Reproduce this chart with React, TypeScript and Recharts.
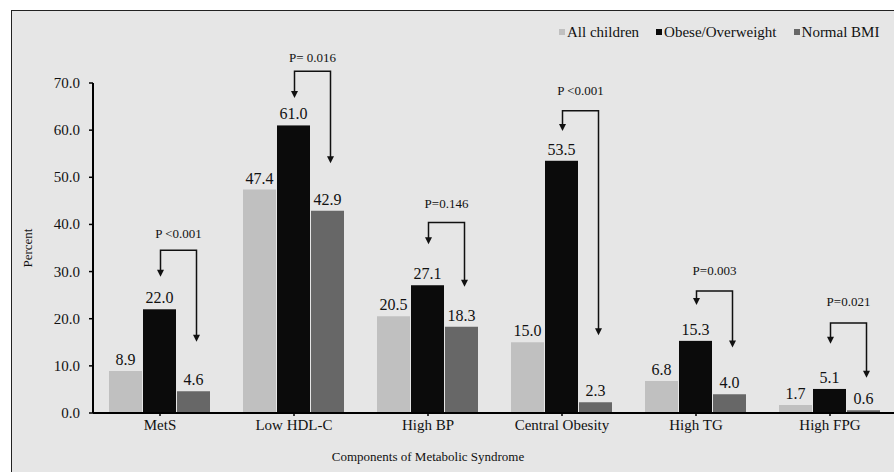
import React from "react";
import { BarChart, Bar, XAxis, YAxis, LabelList } from "recharts";

const categories = ["MetS", "Low HDL-C", "High BP", "Central Obesity", "High TG", "High FPG"];
const allChildren = [8.9, 47.4, 20.5, 15.0, 6.8, 1.7];
const obese = [22.0, 61.0, 27.1, 53.5, 15.3, 5.1];
const normalBmi = [4.6, 42.9, 18.3, 2.3, 4.0, 0.6];
const yTicks = [0, 10, 20, 30, 40, 50, 60, 70];

// P-value brackets (levels are in percent units)
const pLabels = ["P <0.001", "P= 0.016", "P=0.146", "P <0.001", "P=0.003", "P=0.021"];
const pLabelLevel = [38.1, 75.4, 44.5, 68.5, 30.3, 23.6];
const bracketTop = [34.5, 72.5, 40.4, 64.1, 25.9, 19.1];
const leftTip = [28.9, 66.8, 35.8, 59.8, 22.9, 14.7];
const rightTip = [15.1, 53.0, 26.8, 16.5, 13.9, 7.5];

const data = categories.map((name, i) => ({
  name,
  all: allChildren[i],
  obese: obese[i],
  normal: normalBmi[i],
}));

const FONT = "'Liberation Serif', Tinos, 'Times New Roman', Times, serif";
const BAR_GAP = 1;
const COLORS = { all: "#c0c0c0", obese: "#0b0b0b", normal: "#676767" };
const INK = "#111";

const fmt = (v: any) => Number(v).toFixed(1);

const Arrow = ({ x, y }: { x: number; y: number }) => (
  <polygon points={`${x - 3.5},${y - 7} ${x + 3.5},${y - 7} ${x},${y}`} fill={INK} />
);

const ObeseShape = (props: any) => {
  const { x, y, width, height, fill } = props;
  let i = categories.indexOf(props.payload?.name);
  if (i < 0) i = props.index ?? 0;
  const ppu = height / obese[i];
  const base = y + height;
  const toY = (v: number) => base - v * ppu;
  const lx = x + width / 2 + 1;
  const rx = x + width * 1.5 + BAR_GAP + 3;
  const top = toY(bracketTop[i]);
  const lt = toY(leftTip[i]);
  const rt = toY(rightTip[i]);
  return (
    <g>
      <rect x={x} y={y} width={width} height={height} fill={fill} />
      <polyline
        points={`${lx},${lt - 6} ${lx},${top} ${rx},${top} ${rx},${rt - 6}`}
        fill="none"
        stroke={INK}
        strokeWidth={1.5}
      />
      <Arrow x={lx} y={lt} />
      <Arrow x={rx} y={rt} />
      <text
        x={(lx + rx) / 2}
        y={toY(pLabelLevel[i])}
        textAnchor="middle"
        dominantBaseline="central"
        style={{ fontFamily: FONT, fontSize: 13, fill: INK }}
      >
        {pLabels[i]}
      </text>
    </g>
  );
};

const XTick = (props: any) => {
  const { x, y, payload } = props;
  return (
    <text x={x} y={y + 12} textAnchor="middle" style={{ fontFamily: FONT, fontSize: 15, fill: INK }}>
      {payload.value}
    </text>
  );
};

const YTick = (props: any) => {
  const { x, y, payload } = props;
  return (
    <text x={x} y={y} textAnchor="end" dominantBaseline="central" style={{ fontFamily: FONT, fontSize: 15, fill: INK }}>
      {fmt(payload.value)}
    </text>
  );
};

const ValueLabel = (props: any) => {
  const { x, y, width, value } = props;
  const vb = props.viewBox || {};
  const bx = x ?? vb.x;
  const by = y ?? vb.y;
  const bw = width ?? vb.width;
  return (
    <text x={bx + bw / 2} y={by - 6} textAnchor="middle" style={{ fontFamily: FONT, fontSize: 16, fill: INK }}>
      {fmt(value)}
    </text>
  );
};

const legendItems = [
  { label: "All children", color: COLORS.all },
  { label: "Obese/Overweight", color: COLORS.obese },
  { label: "Normal BMI", color: COLORS.normal },
];

const App: React.FC = () => {
  return (
    <div
      style={{
        position: "absolute",
        left: 0,
        top: 0,
        width: 894,
        height: 472,
        overflow: "hidden",
        background: "#fff",
      }}
    >
      <div
        style={{
          position: "absolute",
          left: 11,
          top: 10,
          width: 900,
          height: 480,
          border: "1.5px solid #222",
          background: "#e6e6e6",
        }}
      />
      <div
        style={{
          position: "absolute",
          left: 559,
          top: 23,
          display: "flex",
          fontFamily: FONT,
          fontSize: 15,
          lineHeight: "18px",
          color: INK,
          whiteSpace: "nowrap",
        }}
      >
        {legendItems.map((it) => (
          <div key={it.label} style={{ display: "flex", alignItems: "center", marginRight: 17 }}>
            <span style={{ width: 6, height: 6, background: it.color, marginRight: 2, display: "inline-block" }} />
            <span>{it.label}</span>
          </div>
        ))}
      </div>
      <div style={{ position: "absolute", left: 0, top: 0 }}>
        <BarChart
          width={898}
          height={480}
          data={data}
          margin={{ top: 83, right: 1, bottom: 37, left: 33 }}
          barCategoryGap={16}
          barGap={BAR_GAP}
        >
          <XAxis
            dataKey="name"
            height={30}
            axisLine={{ stroke: "#000", strokeWidth: 2 }}
            tickLine={{ stroke: "#000", strokeWidth: 1.5 }}
            tickSize={3}
            tickMargin={2}
            tick={<XTick />}
            label={{
              value: "Components of Metabolic Syndrome",
              position: "bottom",
              offset: 9,
              dx: -67,
              style: { fontFamily: FONT, fontSize: 13, fill: INK },
            }}
          />
          <YAxis
            width={60}
            domain={[0, 70]}
            ticks={yTicks}
            axisLine={{ stroke: "#000", strokeWidth: 2 }}
            tickLine={{ stroke: "#000", strokeWidth: 1.5 }}
            tickSize={4}
            tickMargin={9}
            tick={<YTick />}
            label={{
              value: "Percent",
              angle: -90,
              position: "insideLeft",
              offset: -6,
              style: { fontFamily: FONT, fontSize: 13, fill: INK, textAnchor: "middle" },
            }}
          />
          <Bar dataKey="all" name="All children" fill={COLORS.all} isAnimationActive={false}>
            <LabelList dataKey="all" content={<ValueLabel />} />
          </Bar>
          <Bar dataKey="obese" name="Obese/Overweight" fill={COLORS.obese} shape={<ObeseShape />} isAnimationActive={false}>
            <LabelList dataKey="obese" content={<ValueLabel />} />
          </Bar>
          <Bar dataKey="normal" name="Normal BMI" fill={COLORS.normal} isAnimationActive={false}>
            <LabelList dataKey="normal" content={<ValueLabel />} />
          </Bar>
        </BarChart>
      </div>
    </div>
  );
};

export default App;
